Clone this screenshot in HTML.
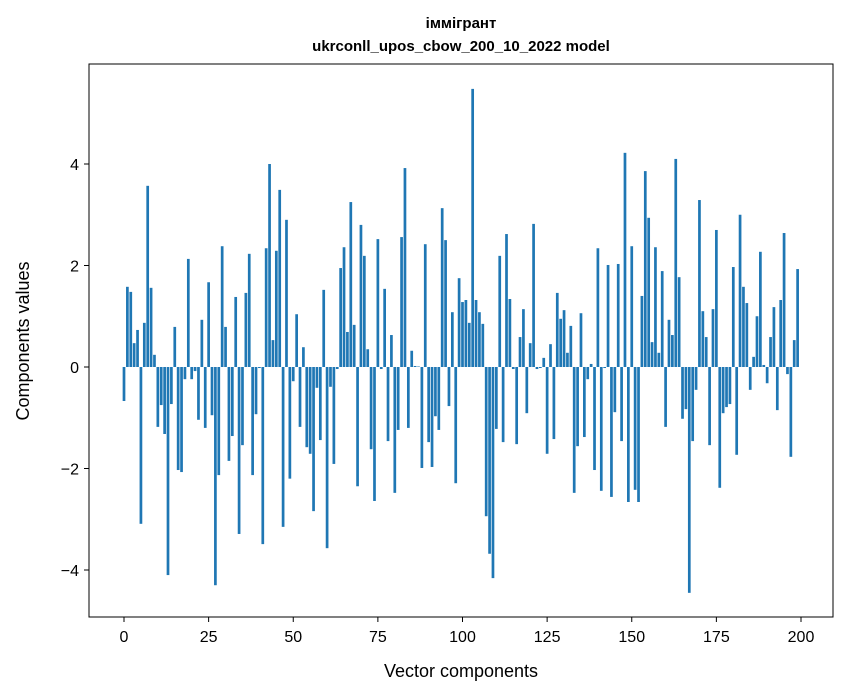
<!DOCTYPE html>
<html><head><meta charset="utf-8"><style>
html,body{margin:0;padding:0;background:#fff;}
svg{display:block;font-family:"Liberation Sans","DejaVu Sans",sans-serif;}
</style></head><body>
<svg id="chart" width="847" height="696" viewBox="0 0 847 696">
<rect width="847" height="696" fill="#fff"/>
<text x="461" y="28" text-anchor="middle" font-size="15" font-weight="bold">іммігрант</text>
<text x="461" y="51" text-anchor="middle" font-size="15" font-weight="bold">ukrconll_upos_cbow_200_10_2022 model</text>
<g id="bars"></g>
<g id="axes"></g>
<rect x="89" y="64" width="744" height="553" fill="none" stroke="#000" stroke-width="1"/>
<text x="461" y="677" text-anchor="middle" font-size="18">Vector components</text>
<text x="0" y="0" transform="translate(29,341) rotate(-90)" text-anchor="middle" font-size="18">Components values</text>
</svg>
<script>
const values = [
-0.67,1.58,1.48,0.47,0.73,-3.09,0.87,3.57,1.56,0.24,
-1.18,-0.75,-1.32,-4.1,-0.73,0.79,-2.03,-2.07,-0.24,2.13,
-0.24,-0.08,-1.04,0.93,-1.2,1.67,-0.95,-4.3,-2.13,2.38,
0.79,-1.85,-1.36,1.38,-3.29,-1.54,1.46,2.23,-2.13,-0.93,
-0.02,-3.49,2.34,4.0,0.53,2.29,3.49,-3.15,2.9,-2.2,
-0.28,1.04,-1.18,0.39,-1.58,-1.71,-2.84,-0.41,-1.44,1.52,
-3.57,-0.39,-1.91,-0.04,1.95,2.36,0.69,3.25,0.83,-2.35,
2.8,2.19,0.35,-1.62,-2.64,2.52,-0.04,1.54,-1.46,0.63,
-2.48,-1.24,2.56,3.92,-1.2,0.32,0.02,0.01,-1.99,2.42,
-1.48,-1.97,-0.97,-1.24,3.13,2.5,-0.77,1.08,-2.29,1.75,
1.28,1.32,0.87,5.48,1.32,1.08,0.85,-2.94,-3.68,-4.16,
-1.22,2.19,-1.48,2.62,1.34,-0.04,-1.52,0.59,1.14,-0.91,
0.47,2.82,-0.04,-0.02,0.18,-1.71,0.45,-1.42,1.46,0.95,
1.12,0.28,0.81,-2.48,-1.56,1.06,-1.38,-0.24,0.06,-2.03,
2.34,-2.44,-0.02,2.01,-2.56,-0.89,2.03,-1.46,4.22,-2.66,
2.38,-2.42,-2.66,1.4,3.86,2.94,0.49,2.36,0.28,1.89,
-1.18,0.93,0.63,4.1,1.77,-1.02,-0.83,-4.45,-1.46,-0.45,
3.29,1.1,0.59,-1.54,1.14,2.7,-2.38,-0.91,-0.79,-0.73,
1.97,-1.73,3.0,1.58,1.26,-0.45,0.2,1.0,2.27,0.04,
-0.32,0.59,1.18,-0.85,1.32,2.64,-0.14,-1.77,0.53,1.93
];
const xTicks = [0,25,50,75,100,125,150,175,200];
const yTicks = [-4,-2,0,2,4];
const NS="http://www.w3.org/2000/svg";
function xs(v){return 124+(801-124)/200*v;}
function ys(v){return 367-50.75*v;}
const bars=document.getElementById('bars');
values.forEach((v,i)=>{
  const r=document.createElementNS(NS,'rect');
  const w=(xs(1)-xs(0))*0.8;
  r.setAttribute('x',xs(i)-w/2);
  r.setAttribute('width',w);
  r.setAttribute('y',Math.min(ys(v),ys(0)));
  r.setAttribute('height',Math.abs(ys(v)-ys(0)));
  r.setAttribute('fill','#1f77b4');
  
  
  bars.appendChild(r);
});
const axes=document.getElementById('axes');
xTicks.forEach(t=>{
  const l=document.createElementNS(NS,'line');
  l.setAttribute('x1',xs(t));l.setAttribute('x2',xs(t));
  l.setAttribute('y1',617);l.setAttribute('y2',622);
  l.setAttribute('stroke','#000');
  
  
  axes.appendChild(l);
  const tx=document.createElementNS(NS,'text');
  tx.setAttribute('x',xs(t));tx.setAttribute('y',642);
  tx.setAttribute('text-anchor','middle');tx.setAttribute('font-size','16');
  tx.textContent=t;
  
  
  axes.appendChild(tx);
});
yTicks.forEach(t=>{
  const l=document.createElementNS(NS,'line');
  l.setAttribute('x1',84);l.setAttribute('x2',89);
  l.setAttribute('y1',ys(t));l.setAttribute('y2',ys(t));
  l.setAttribute('stroke','#000');
  
  
  axes.appendChild(l);
  const tx=document.createElementNS(NS,'text');
  tx.setAttribute('x',79);tx.setAttribute('y',ys(t)+6);
  tx.setAttribute('text-anchor','end');tx.setAttribute('font-size','16');
  tx.textContent=(t<0?'\u2212'+(-t):t);
  
  
  axes.appendChild(tx);
});
</script>
</body></html>
